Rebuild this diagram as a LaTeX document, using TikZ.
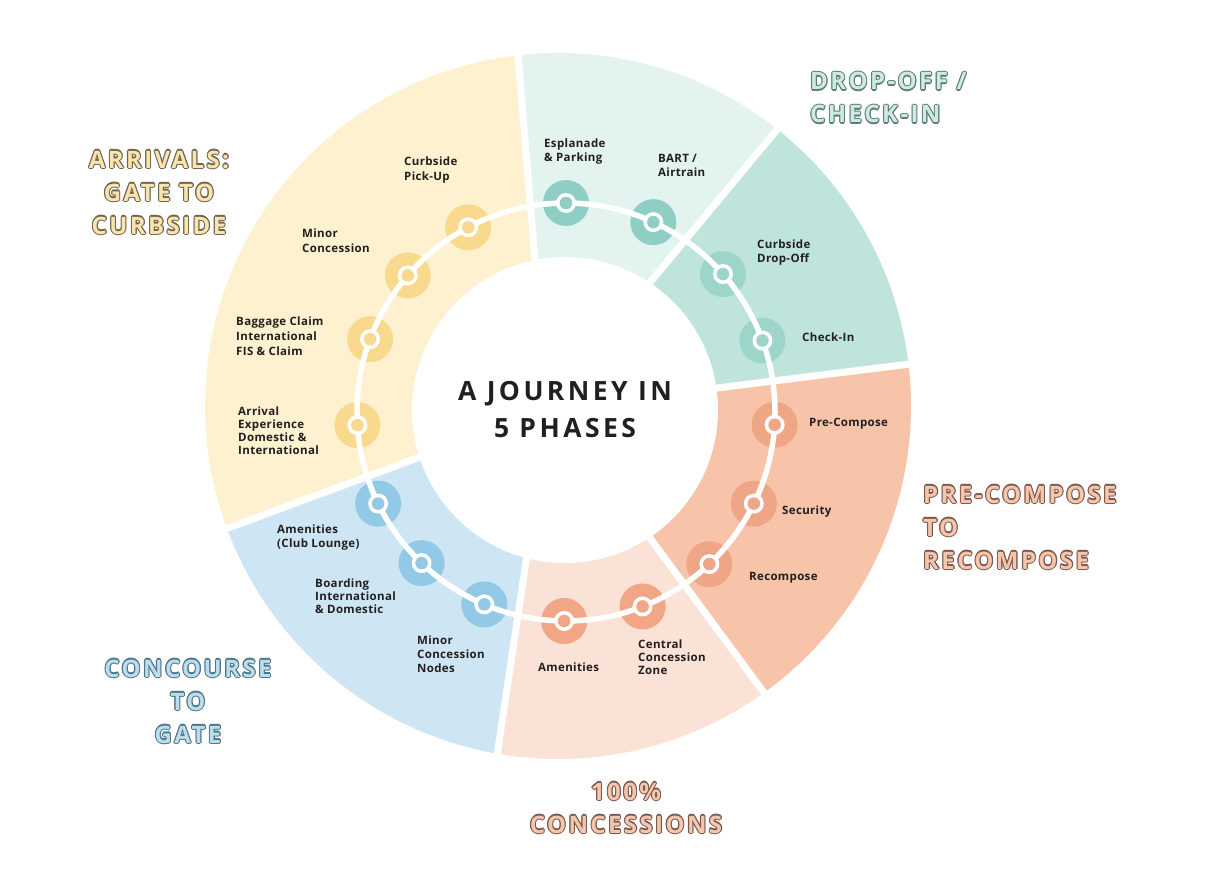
\documentclass[tikz,border=0pt]{standalone}
\usepackage{fontspec}
\usetikzlibrary{calc}
\setmainfont{Open Sans}
\newfontfamily\labfam[LetterSpace=3]{Open Sans}
\newfontfamily\ttlfam[LetterSpace=10]{Open Sans}
\newfontfamily\ctrfam[LetterSpace=13]{Open Sans}
\definecolor{secY}{HTML}{FEF1CF}
\definecolor{secLT}{HTML}{E3F3EF}
\definecolor{secT}{HTML}{BFE4DB}
\definecolor{secS}{HTML}{F7C4A9}
\definecolor{secP}{HTML}{FAE2D7}
\definecolor{secB}{HTML}{CEE6F3}
\definecolor{dotY}{HTML}{F9D98D}
\definecolor{dotLT}{HTML}{8FCEC4}
\definecolor{dotT}{HTML}{9DD5CB}
\definecolor{dotS}{HTML}{EFA687}
\definecolor{dotP}{HTML}{F1A685}
\definecolor{dotB}{HTML}{91C9E7}
\definecolor{labtext}{HTML}{231F20}
\definecolor{fY}{HTML}{F9E4AE}\definecolor{oY}{HTML}{6E6450}
\definecolor{fT}{HTML}{CFE9E3}\definecolor{oT}{HTML}{5C7E76}
\definecolor{fS}{HTML}{F6C5AB}\definecolor{oS}{HTML}{7B5A4E}
\definecolor{fP}{HTML}{F4C6AE}\definecolor{oP}{HTML}{7B5A4E}
\definecolor{fB}{HTML}{BCDDEC}\definecolor{oB}{HTML}{4E7588}
\newsavebox\olA
\newsavebox\olB
\newcommand\outl[3]{%
  \sbox\olA{\color{#1}#3}%
  \sbox\olB{\color{#2}#3}%
  \leavevmode
  \rlap{\kern1.1pt\copy\olA}\rlap{\kern-1.1pt\copy\olA}%
  \rlap{\raise1.1pt\copy\olA}\rlap{\lower1.1pt\copy\olA}%
  \rlap{\kern.8pt\raise.8pt\copy\olA}\rlap{\kern-.8pt\raise.8pt\copy\olA}%
  \rlap{\kern.8pt\lower.8pt\copy\olA}\rlap{\kern-.8pt\lower.8pt\copy\olA}%
  \copy\olB}
\newcommand\linesL[1]{\begin{tabular}[t]{@{}l@{}}#1\end{tabular}}
\newcommand\linesC[1]{\begin{tabular}[t]{@{}c@{}}#1\end{tabular}}
\newcommand\labf[1]{\labfam\bfseries\fontsize{11.5}{#1}\selectfont}
\begin{document}
\begin{tikzpicture}[x=1pt,y=-1pt,
  lab/.style={anchor=base west,inner sep=0pt,text=labtext,font=\labf{14.5}},
  ttl/.style={inner sep=0pt,font=\ttlfam\bfseries\fontsize{24}{33}\selectfont},
  halo/.style={circle,fill=#1,minimum size=46pt,inner sep=0pt,draw=none},
  sepline/.style={white,line width=7pt}]
\useasboundingbox (0,0) rectangle (1210,888);
\fill[white] (0,0) rectangle (1210,888);
\coordinate (C0) at (558,406);
\coordinate (CI) at (565,410);
\coordinate (CT) at (566,412);
\coordinate (in1) at (535,260);
\coordinate (in2) at (652,280);
\coordinate (in3) at (717,388);
\coordinate (in4) at (650,538);
\coordinate (in5) at (527,555);
\coordinate (in6) at (420,457);
\coordinate (o1) at ($(C0)+(-96.5:353)$);
\coordinate (o2) at ($(C0)+(-51.6:353)$);
\coordinate (o3) at ($(C0)+(-6.8:353)$);
\coordinate (o4) at ($(C0)+(54.3:353)$);
\coordinate (o5) at ($(C0)+(99.9:353)$);
\coordinate (o6) at ($(C0)+(159.7:353)$);
% sectors
\fill[secLT] (in1) -- (o1) arc[start angle=-96.5,end angle=-51.6,radius=353] -- (in2) -- (CI) -- cycle;
\fill[secT] (in2) -- (o2) arc[start angle=-51.6,end angle=-6.8,radius=353] -- (in3) -- (CI) -- cycle;
\fill[secS] (in3) -- (o3) arc[start angle=-6.8,end angle=54.3,radius=353] -- (in4) -- (CI) -- cycle;
\fill[secP] (in4) -- (o4) arc[start angle=54.3,end angle=99.9,radius=353] -- (in5) -- (CI) -- cycle;
\fill[secB] (in5) -- (o5) arc[start angle=99.9,end angle=159.7,radius=353] -- (in6) -- (CI) -- cycle;
\fill[secY] (in6) -- (o6) arc[start angle=159.7,end angle=263.5,radius=353] -- (in1) -- (CI) -- cycle;
% separators
\foreach \k in {1,...,6}
  \draw[sepline] ($(in\k)!-0.1!(o\k)$) -- ($(o\k)!-0.04!(in\k)$);
\fill[white] (CI) circle[radius=153];
% stations
\foreach \n/\a/\c in {1/-90/dotLT,2/-65.3/dotLT,3/-41.3/dotT,4/-20/dotT,5/3.5/dotS,6/26/dotS,7/46.7/dotS,8/68.5/dotP,9/90.5/dotP,10/113/dotB,11/133.7/dotB,12/154/dotB,13/176.4/dotY,14/200.4/dotY,15/220.8/dotY,16/242.1/dotY}
  \node[halo=\c] (h\n) at ($(CT)+(\a:209)$) {};
\draw[white,line width=5.5pt] (CT) circle[radius=209];
\foreach \n/\c in {1/dotLT,2/dotLT,3/dotT,4/dotT,5/dotS,6/dotS,7/dotS,8/dotP,9/dotP,10/dotB,11/dotB,12/dotB,13/dotY,14/dotY,15/dotY,16/dotY}{
  \fill[white] (h\n) circle[radius=10];
  \fill[\c] (h\n) circle[radius=6.3];
}
% station labels
\node[lab] (l1) at (544,147) {\linesL{Esplanade\\\& Parking}};
\node[lab] (l2) at (658,162) {\linesL{BART /\\Airtrain}};
\node[lab] (l3) at (757,248) {\linesL{Curbside\\Drop-Off}};
\node[lab] (l4) at (802,341) {Check-In};
\node[lab] (l5) at (809,426) {Pre-Compose};
\node[lab] (l6) at (782,514) {Security};
\node[lab] (l7) at (749,580) {Recompose};
\node[lab,font=\labf{13}] (l8) at (638,648) {\linesL{Central\\Concession\\Zone}};
\node[lab] (l9) at (538,671) {Amenities};
\node[lab,font=\labf{14}] (l10) at (417,644) {\linesL{Minor\\Concession\\Nodes}};
\node[lab,font=\labf{13}] (l11) at (315,587) {\linesL{Boarding\\International\\\& Domestic}};
\node[lab] (l12) at (277,533) {\linesL{Amenities\\(Club Lounge)}};
\node[lab,font=\labf{13.3}] (l13) at (238,415) {\linesL{Arrival\\Experience\\Domestic \&\\International}};
\node[lab,font=\labf{15}] (l14) at (236,325) {\linesL{Baggage Claim\\International\\FIS \& Claim}};
\node[lab,font=\labf{15}] (l15) at (302,237) {\linesL{Minor\\Concession}};
\node[lab,font=\labf{15}] (l16) at (404,165) {\linesL{Curbside\\Pick-Up}};
% centre
\node[inner sep=0pt,anchor=base,text=labtext,font=\ctrfam\bfseries\fontsize{26.5}{37}\selectfont] (ctr) at (565,400) {\linesC{A JOURNEY IN\\5 PHASES}};
% phase titles
\node[ttl,anchor=base] (t1) at (159,168) {\outl{oY}{fY}{\linesC{ARRIVALS:\\GATE TO\\CURBSIDE}}};
\node[ttl,anchor=base west] (t2) at (810,90) {\outl{oT}{fT}{\linesL{DROP-OFF /\\CHECK-IN}}};
\node[ttl,anchor=base west] (t3) at (923,503) {\outl{oS}{fS}{\linesL{PRE-COMPOSE\\TO\\RECOMPOSE}}};
\node[ttl,anchor=base] (t4) at (626,800) {\outl{oP}{fP}{\linesC{100\%\\CONCESSIONS}}};
\node[ttl,anchor=base] (t5) at (188,677) {\outl{oB}{fB}{\linesC{CONCOURSE\\TO\\GATE}}};
\end{tikzpicture}
\end{document}
